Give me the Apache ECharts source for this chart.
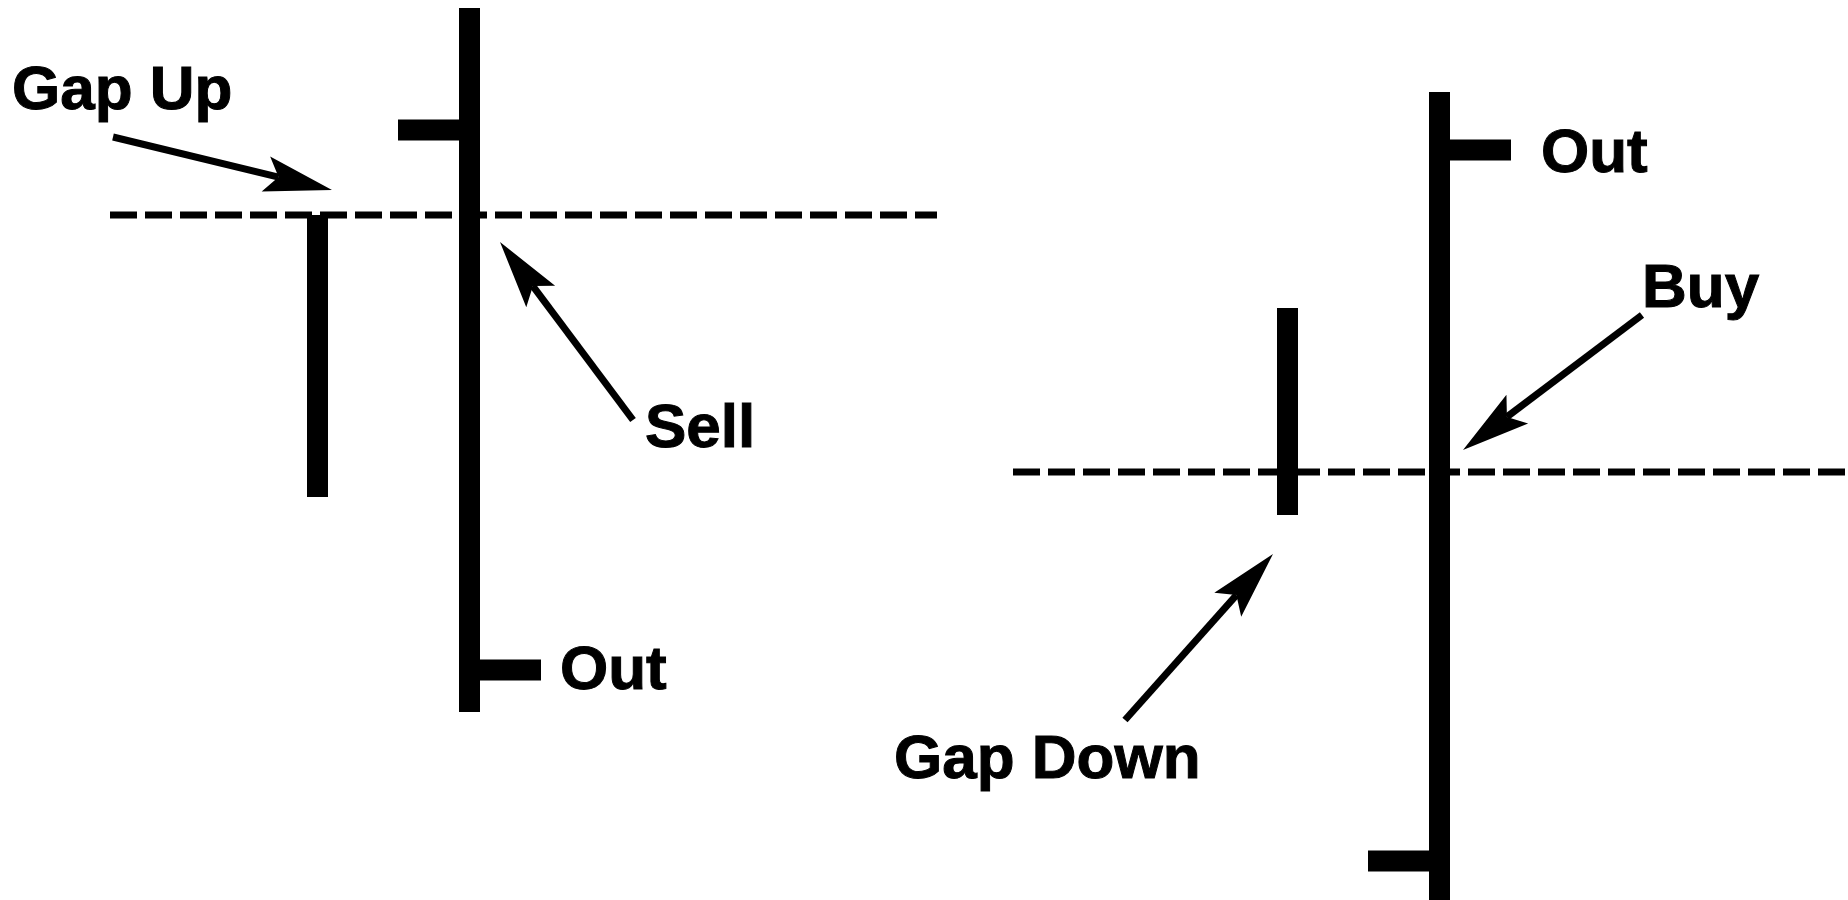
<!DOCTYPE html>
<html>
<head>
<meta charset="utf-8">
<title>Gap Up / Gap Down</title>
<script src="https://cdn.jsdelivr.net/npm/echarts@6/dist/echarts.min.js"></script>
<style>
  html, body { margin: 0; padding: 0; background: #fff; }
  #chart { width: 1848px; height: 900px; }
</style>
</head>
<body>
<div id="chart"></div>
<script>
// bars: [position, open, close, low, high]; null = no tick
const barPositions = [3.175, 4.695, 12.875, 14.395];
const barOpen = [null, 77.0, null, 3.9];
const barClose = [null, 23.0, null, 75.0];
const barLow = [40.3, 18.8, 38.5, 0];
const barHigh = [68.5, 89.2, 59.2, 80.8];

// dashed gap levels: [from, to, level]
const gapUpLevel = [[1.10, 68.5], [9.37, 68.5]];
const gapDownLevel = [[10.13, 42.8], [18.48, 42.8]];

// arrows: [fromX, fromY, toX, toY]
const arrows = [
  [1.13, 76.3, 3.32, 71.0],
  [6.33, 48.0, 5.00, 65.8],
  [16.42, 58.5, 14.63, 45.0],
  [11.25, 18.0, 12.73, 34.6]
];

// labels: [x, y, text]
const labels = [
  [0.12, 80.8, 'Gap Up'],
  [6.45, 47.0, 'Sell'],
  [5.60, 22.8, 'Out'],
  [15.41, 74.5, 'Out'],
  [16.42, 61.0, 'Buy'],
  [8.94, 13.9, 'Gap Down']
];

const barData = barPositions.map((x, i) => [x, barOpen[i], barClose[i], barLow[i], barHigh[i]]);

const chart = echarts.init(document.getElementById('chart'));

const option = {
  backgroundColor: '#fff',
  animation: false,
  grid: { left: 0, right: 0, top: 0, bottom: 0 },
  xAxis: { type: 'value', min: 0, max: 18.48, show: false },
  yAxis: { type: 'value', min: 0, max: 90, show: false },
  series: [
    {
      type: 'line',
      data: gapUpLevel,
      symbol: 'none',
      lineStyle: { color: '#000', width: 7, type: [27, 8], cap: 'butt' }
    },
    {
      type: 'line',
      data: gapDownLevel,
      symbol: 'none',
      lineStyle: { color: '#000', width: 7, type: [27, 8], cap: 'butt' }
    },
    {
      type: 'custom',
      data: barData,
      clip: true,
      renderItem: function (params, api) {
        const x = api.value(0);
        const hi = api.coord([x, api.value(4)]);
        const lo = api.coord([x, api.value(3)]);
        const w = 21;
        const tick = 61;
        const children = [{
          type: 'rect',
          shape: { x: hi[0] - w / 2, y: hi[1], width: w, height: lo[1] - hi[1] },
          style: { fill: '#000' }
        }];
        const open = api.value(1);
        if (!isNaN(open)) {
          const o = api.coord([x, open]);
          children.push({
            type: 'rect',
            shape: { x: o[0] - w / 2 - tick, y: o[1] - w / 2, width: tick, height: w },
            style: { fill: '#000' }
          });
        }
        const close = api.value(2);
        if (!isNaN(close)) {
          const c = api.coord([x, close]);
          children.push({
            type: 'rect',
            shape: { x: c[0] + w / 2, y: c[1] - w / 2, width: tick, height: w },
            style: { fill: '#000' }
          });
        }
        return { type: 'group', children: children };
      }
    },
    {
      type: 'custom',
      data: arrows,
      renderItem: function (params, api) {
        const p1 = api.coord([api.value(0), api.value(1)]);
        const p2 = api.coord([api.value(2), api.value(3)]);
        const dx = p2[0] - p1[0], dy = p2[1] - p1[1];
        const len = Math.sqrt(dx * dx + dy * dy);
        const ux = dx / len, uy = dy / len;
        const nx = -uy, ny = ux;
        const headLen = 68, half = 18, notch = 55;
        const b1 = [p2[0] - ux * headLen + nx * half, p2[1] - uy * headLen + ny * half];
        const b2 = [p2[0] - ux * headLen - nx * half, p2[1] - uy * headLen - ny * half];
        const n = [p2[0] - ux * notch, p2[1] - uy * notch];
        return {
          type: 'group',
          children: [
            {
              type: 'line',
              shape: { x1: p1[0], y1: p1[1], x2: n[0], y2: n[1] },
              style: { stroke: '#000', lineWidth: 7 }
            },
            {
              type: 'polygon',
              shape: { points: [p2, b1, n, b2] },
              style: { fill: '#000' }
            }
          ]
        };
      }
    },
    {
      type: 'custom',
      data: labels,
      renderItem: function (params, api) {
        const p = api.coord([api.value(0), api.value(1)]);
        return {
          type: 'text',
          x: p[0],
          y: p[1],
          style: {
            text: labels[params.dataIndex][2],
            fill: '#000',
            stroke: '#000',
            lineWidth: 1,
            font: 'bold 62px "Liberation Sans", Arial, sans-serif',
            align: 'left',
            verticalAlign: 'middle'
          }
        };
      }
    }
  ]
};

chart.setOption(option);
</script>
</body>
</html>
